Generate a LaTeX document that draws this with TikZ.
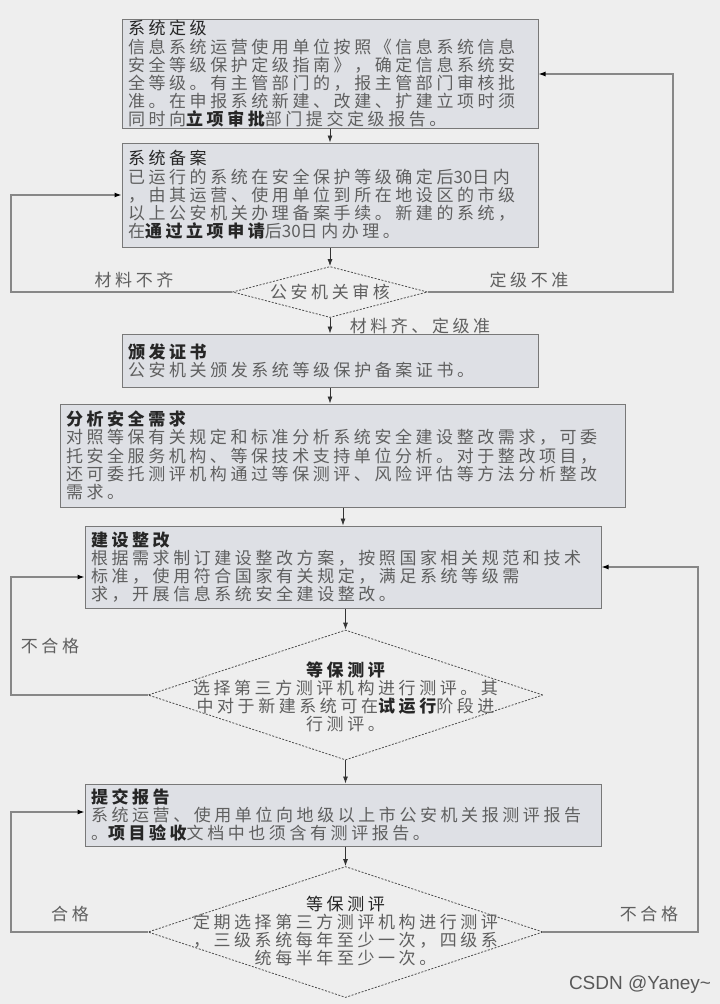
\documentclass[tikz,border=0pt]{standalone}
\usepackage{fontspec}
\setmainfont{Noto Sans CJK SC}[LetterSpace=21]
\newfontfamily\wmfont{Liberation Sans}
\usepackage{tikz}
\usetikzlibrary{positioning, shapes.geometric, arrows.meta, calc}
\definecolor{bgc}{RGB}{238,238,238}
\definecolor{boxc}{RGB}{222,224,229}
\definecolor{edgec}{RGB}{120,120,120}
\definecolor{txtc}{RGB}{95,95,95}
\definecolor{linec}{RGB}{135,135,135}
\newcommand{\cjktxt}{\fontsize{17pt}{18.2pt}\selectfont}
\newcommand{\boxttl}[1]{{\color{black!85}#1}}
\newcommand{\bhl}[1]{{\bfseries\color{black!85}#1}}
\newcommand{\numtxt}[1]{{\addfontfeature{LetterSpace=0}#1}}

\begin{document}
\begin{tikzpicture}[x=1pt, y=-1pt,
      box/.style={draw=edgec, line width=1pt, fill=boxc, align=left, inner xsep=6pt, inner ysep=1pt, text width=#1, font=\cjktxt, text=txtc},
      dia/.style={diamond, draw=black!70, dash pattern=on 2pt off 1.5pt, line width=0.8pt, fill=bgc, inner sep=0pt},
      dtxt/.style={align=center, font=\cjktxt, text=txtc, inner sep=0pt},
      lab/.style={font=\cjktxt, text=txtc, inner sep=0pt},
      arr/.style={-{Latex[length=7pt,width=5pt]}, draw=black!80, line width=0.8pt},
      loop/.style={-{Latex[length=7pt,width=5pt,color=black]}, draw=linec, line width=1.2pt}]
      \fill[bgc] (0,0) rectangle (720,1004);
      \useasboundingbox (0,0) rectangle (720,1004);
      \node[box=404pt, minimum height=104pt] (b1) at (330,74) {\boxttl{系统定级}\\信息系统运营使用单位按照《信息系统信息\\安全等级保护定级指南》，确定信息系统安\\全等级。有主管部门的，报主管部门审核批\\准。在申报系统新建、改建、扩建立项时须\\同时向\bhl{立项审批}部门提交定级报告。};
      \node[box=404pt, minimum height=104pt] (b2) at (330,195) {\boxttl{系统备案}\\已运行的系统在安全保护等级确定后\numtxt{30}日内\\，由其运营、使用单位到所在地设区的市级\\以上公安机关办理备案手续。新建的系统，\\在\bhl{通过立项申请}后\numtxt{30}日内办理。};
      \node[dia, minimum width=195pt, minimum height=51pt] (da) at (330,292) {};
      \node[dtxt] (dat) at (da) {公安机关审核};
      \node[box=404pt, minimum height=53pt] (b3) at (330,360.5) {\bhl{颁发证书}\\公安机关颁发系统等级保护备案证书。};
      \node[box=553pt, minimum height=103pt] (b4) at (342.5,455.5) {\bhl{分析安全需求}\\对照等保有关规定和标准分析系统安全建设整改需求，可委\\托安全服务机构、等保技术支持单位分析。对于整改项目，\\还可委托测评机构通过等保测评、风险评估等方法分析整改\\需求。};
      \node[box=504pt, minimum height=82pt] (b5) at (343,567) {\bhl{建设整改}\\根据需求制订建设整改方案，按照国家相关规范和技术\\标准，使用符合国家有关规定，满足系统等级需\\求，开展信息系统安全建设整改。};
      \node[dia, minimum width=395pt, minimum height=130pt] (d1) at (345.5,695) {};
      \node[dtxt] (d1t) at (345.5,697) {\bhl{等保测评}\\选择第三方测评机构进行测评。其\\中对于新建系统可在\bhl{试运行}阶段进\\行测评。};
      \node[box=504pt, minimum height=62pt] (b6) at (343,815) {\bhl{提交报告}\\系统运营、使用单位向地级以上市公安机关报测评报告\\。\bhl{项目验收}文档中也须含有测评报告。};
      \node[dia, minimum width=395pt, minimum height=131pt] (d2) at (345.5,932) {};
      \node[dtxt] (d2t) at (345.5,931) {\boxttl{等保测评}\\定期选择第三方测评机构进行测评\\，三级系统每年至少一次，四级系\\统每半年至少一次。};
      \node[lab] (l1) at (134,280) {材料不齐};
      \node[lab] (l2) at (529,280) {定级不准};
      \node[lab] (l3) at (420,326) {材料齐、定级准};
      \node[lab] (l4) at (50,646) {不合格};
      \node[lab] (l5) at (70,914) {合格};
      \node[lab] (l6) at (649,914) {不合格};
      \node[font=\wmfont\fontsize{19pt}{19pt}\selectfont, text=black!65, inner sep=0pt] (wm) at (640,985) {CSDN @Yaney\textasciitilde};
      \coordinate (la) at (11,292);
      \coordinate (ra) at (673,292);
      \coordinate (lb) at (11,695);
      \coordinate (lc) at (11,932);
      \coordinate (rc) at (698,932);
      \draw[arr] (b1.south) -- (b2.north);
      \draw[arr] (b2.south) -- (da.north);
      \draw[arr] (da.south) -- (b3.north);
      \draw[arr] (b3.south) -- (b3.south |- b4.north);
      \draw[arr] (b5.north |- b4.south) -- (b5.north);
      \draw[arr] (d1.north |- b5.south) -- (d1.north);
      \draw[arr] (d1.south) -- (d1.south |- b6.north);
      \draw[arr] (d2.north |- b6.south) -- (d2.north);
      \draw[loop] (da.west) -- (la) |- (b2.west);
      \draw[loop] (da.east) -- (ra) |- (b1.east);
      \draw[loop] (d1.west) -- (lb) |- ([yshift=-10pt]b5.west);
      \draw[loop] (d2.west) -- (lc) |- ([yshift=3pt]b6.west);
      \draw[loop] (d2.east) -- (rc) |- (b5.east);
    \end{tikzpicture}
\end{document}
